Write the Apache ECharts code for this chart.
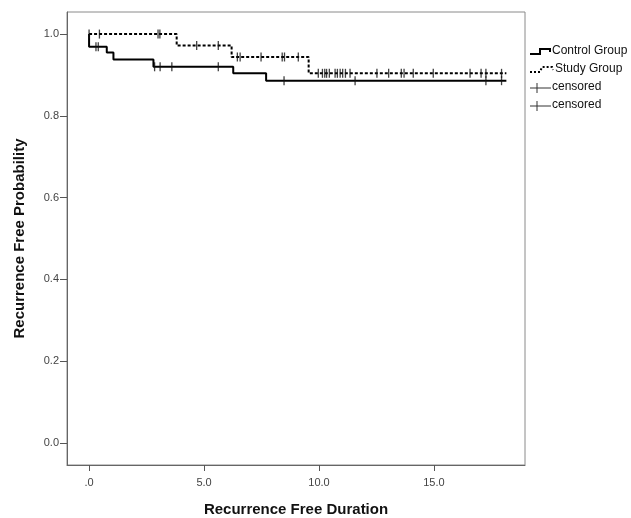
<!DOCTYPE html>
<html>
<head>
<meta charset="utf-8">
<script src="https://cdn.jsdelivr.net/npm/echarts@6/dist/echarts.min.js"></script>
<style>html,body{margin:0;padding:0;background:#fff;}#c{width:631px;height:518px;}</style>
</head>
<body>
<div id="c"></div>
<script>
// ---- data ----
const xTicks = [0, 5, 10, 15];
const yTicks = [0.0, 0.2, 0.4, 0.6, 0.8, 1.0];

const controlEventTimes = [0.0, 0.77, 1.06, 2.8, 6.27, 7.7];
const controlSurv      = [0.969, 0.955, 0.938, 0.920, 0.904, 0.886];
const controlCensor    = [0.3, 0.4, 2.85, 3.09, 3.6, 5.62, 8.48, 11.57, 17.26, 17.94];
const controlEnd       = 18.15;

const studyEventTimes  = [3.81, 6.2, 9.55];
const studySurv        = [0.972, 0.944, 0.904];
const studyCensor      = [0.0, 0.45, 3.0, 3.08, 4.68, 5.62, 6.45, 6.57, 7.48, 8.4, 8.5, 9.1,
                          9.97, 10.15, 10.25, 10.33, 10.45, 10.7, 10.8, 10.92, 11.03, 11.15, 11.35,
                          12.52, 13.03, 13.58, 13.7, 14.1, 14.97, 16.57, 17.05, 17.26, 17.94];
const studyEnd         = 18.15;

const xTitle = 'Recurrence Free Duration';
const yTitle = 'Recurrence Free Probability';
const legendNames = ['Control Group', 'Study Group', 'censored', 'censored'];

// ---- build ----
function stepData(times, surv, end) {
  const d = [[0, 1.0]];
  for (let i = 0; i < times.length; i++) d.push([times[i], surv[i]]);
  d.push([end, surv[surv.length - 1]]);
  return d;
}
function survAt(times, surv, t) {
  let s = 1.0;
  for (let i = 0; i < times.length; i++) if (times[i] <= t) s = surv[i];
  return s;
}
const controlLine = stepData(controlEventTimes, controlSurv, controlEnd);
const studyLine = stepData(studyEventTimes, studySurv, studyEnd);
const controlMarks = controlCensor.map(t => [t, survAt(controlEventTimes, controlSurv, t)]);
const studyMarks = studyCensor.map(t => [t, survAt(studyEventTimes, studySurv, t)]);

const chart = echarts.init(document.getElementById('c'), null, {renderer: 'canvas'});
const font = 'Liberation Sans, Arial, sans-serif';

const option = {
  animation: false,
  backgroundColor: '#fff',
  grid: {left: 67, top: 12, right: 106, bottom: 53, show: true, borderColor: '#8a8a8a', borderWidth: 1,
         containLabel: false, outerBoundsMode: 'none'},
  xAxis: {
    type: 'value', min: -0.96, max: 18.96,
    name: xTitle, nameLocation: 'middle', nameGap: 37,
    nameTextStyle: {fontFamily: font, fontSize: 15, fontWeight: 'bold', color: '#111'},
    axisLine: {show: true, onZero: false, lineStyle: {color: '#666', width: 1}},
    axisTick: {show: true, length: 6, customValues: xTicks, lineStyle: {color: '#555'}},
    axisLabel: {customValues: xTicks, fontFamily: font, fontSize: 11, color: '#444', margin: 12,
      formatter: v => (v === 0 ? '.0' : v.toFixed(1))},
    splitLine: {show: false}
  },
  yAxis: {
    type: 'value', min: -0.054, max: 1.054,
    name: yTitle, nameLocation: 'middle', nameGap: 40, nameRotate: 90,
    nameTextStyle: {fontFamily: font, fontSize: 15, fontWeight: 'bold', color: '#111'},
    axisLine: {show: true, onZero: false, lineStyle: {color: '#666', width: 1}},
    axisTick: {show: true, length: 7, customValues: yTicks, lineStyle: {color: '#555'}},
    axisLabel: {customValues: yTicks, fontFamily: font, fontSize: 11, color: '#444', margin: 8,
      formatter: v => v.toFixed(1)},
    splitLine: {show: false}
  },
  series: [
    {name: legendNames[0], type: 'line', step: 'end', data: controlLine, symbol: 'none',
     lineStyle: {color: '#000', width: 2}, z: 3},
    {name: legendNames[1], type: 'line', step: 'end', data: studyLine, symbol: 'none',
     lineStyle: {color: '#000', width: 2, type: [3, 2]}, z: 3},
    {name: legendNames[2], type: 'scatter', data: controlMarks, symbol: 'rect', symbolSize: [1.3, 9],
     itemStyle: {color: '#111'}, z: 4},
    {name: legendNames[3], type: 'scatter', data: studyMarks, symbol: 'rect', symbolSize: [1.3, 9],
     itemStyle: {color: '#111'}, z: 4}
  ],
  graphic: [
    // legend
    {type: 'polyline', shape: {points: [[530, 54], [540, 54], [540, 49], [550, 49], [550, 52]]},
     style: {stroke: '#000', lineWidth: 2, fill: null}},
    {type: 'text', left: 552, top: 45, style: {text: legendNames[0], font: '12px ' + font, fill: '#111'}},
    {type: 'polyline', shape: {points: [[530, 72], [540, 72], [542, 67], [552, 67], [553, 70]]},
     style: {stroke: '#000', lineWidth: 2, fill: null, lineDash: [2, 2]}},
    {type: 'text', left: 555, top: 63, style: {text: legendNames[1], font: '12px ' + font, fill: '#111'}},
    {type: 'line', shape: {x1: 530, y1: 88, x2: 551, y2: 88}, style: {stroke: '#333', lineWidth: 1}},
    {type: 'line', shape: {x1: 537, y1: 83, x2: 537, y2: 93}, style: {stroke: '#333', lineWidth: 1}},
    {type: 'text', left: 552, top: 81, style: {text: legendNames[2], font: '12px ' + font, fill: '#111'}},
    {type: 'line', shape: {x1: 530, y1: 106, x2: 551, y2: 106}, style: {stroke: '#333', lineWidth: 1}},
    {type: 'line', shape: {x1: 537, y1: 101, x2: 537, y2: 111}, style: {stroke: '#333', lineWidth: 1}},
    {type: 'text', left: 552, top: 99, style: {text: legendNames[3], font: '12px ' + font, fill: '#111'}}
  ]
};
chart.setOption(option);
</script>
</body>
</html>
